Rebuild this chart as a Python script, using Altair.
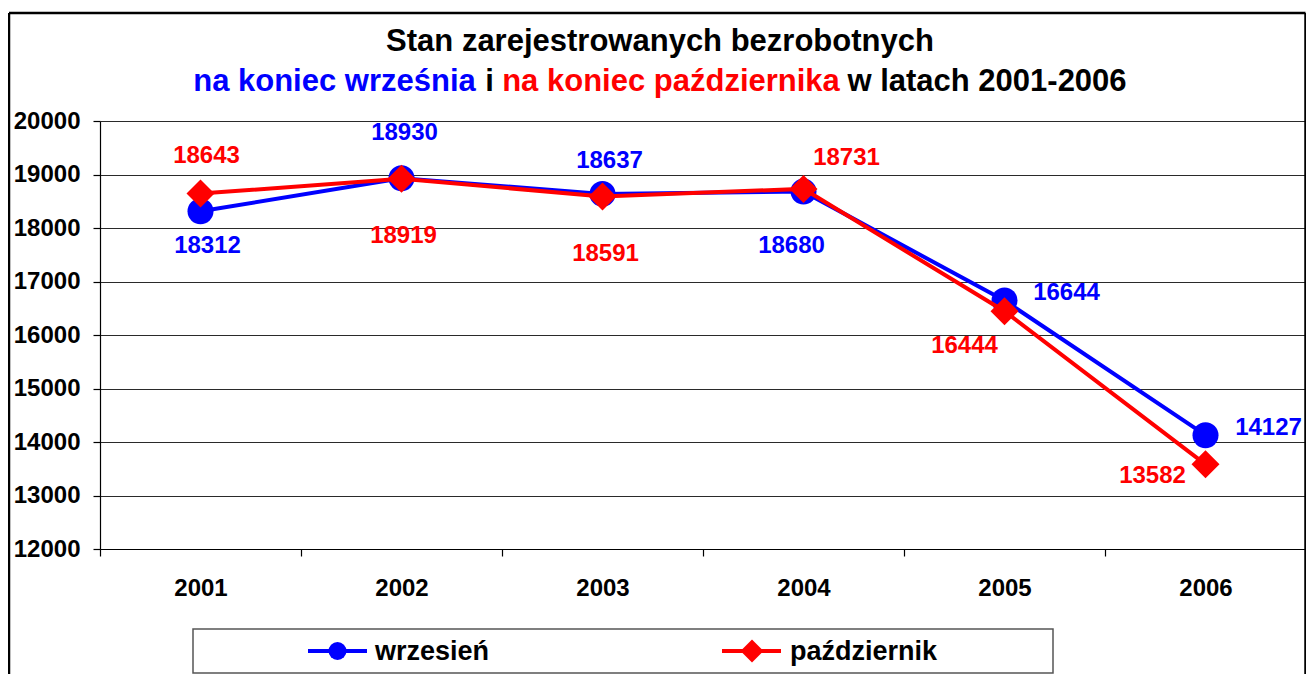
import altair as alt
import pandas as pd

# ---------------- data ----------------
years = ["2001", "2002", "2003", "2004", "2005", "2006"]
wrzesien = [18312, 18930, 18637, 18680, 16644, 14127]
pazdziernik = [18643, 18919, 18591, 18731, 16444, 13582]
series_names = ["wrzesień", "październik"]
y_ticks = [12000, 13000, 14000, 15000, 16000, 17000, 18000, 19000, 20000]

title_line1 = "Stan zarejestrowanych bezrobotnych"
title_line2_parts = ["na koniec września", "i", "na koniec października", "w latach 2001-2006"]

# ---------------- style ----------------
FONT = "Liberation Sans"
BLUE = "#0000FF"
RED = "#FF0000"
title_line2_colors = [BLUE, "#000000", RED, "#000000"]
title_line2_centers = [234.5, 389.5, 571, 887]   # pixel centres (layout)

# label offsets (pixels) for each point's value label
wrz_dx = [7, 3, 7, -12, 62, 63]
wrz_dy = [35, -45, -33, 54, -8, -7]
paz_dx = [6, 2, 3, 43, -40, -53]
paz_dy = [-38, 57, 58, -31, 35, 12]

PLOT_W, PLOT_H = 1206, 428
LBL = 24

df_w = pd.DataFrame({"year": years, "value": wrzesien})
df_p = pd.DataFrame({"year": years, "value": pazdziernik})
one = pd.DataFrame({"k": [0]})

x_enc = alt.X(
    "year:N",
    bandPosition=0.5,
    scale=alt.Scale(type="band", domain=years, paddingInner=0, paddingOuter=0),
    axis=alt.Axis(
        title=None, labelAngle=0, tickBand="extent", grid=False,
        domainColor="#000000", domainWidth=1.2, tickColor="#000000", tickWidth=1.2,
        tickSize=7, labelFont=FONT, labelFontSize=LBL, labelFontWeight="bold",
        labelColor="#000000", labelPadding=20,
    ),
)
y_enc = alt.Y(
    "value:Q",
    scale=alt.Scale(domain=[12000, 20000], nice=False, zero=False),
    axis=alt.Axis(
        title=None, values=y_ticks, format="d", grid=True, gridColor="#2a2a2a",
        gridWidth=1.2, domainColor="#000000", domainWidth=1.2, tickColor="#000000",
        tickWidth=1.2, tickSize=7, labelFont=FONT, labelFontSize=LBL,
        labelFontWeight="bold", labelColor="#000000", labelPadding=13,
    ),
)

layers = []

# outer chart border
RIGHT_X = PLOT_W - 0.5
border = alt.Chart(one)
layers.append(border.mark_rule(color="#000000", strokeWidth=2.5).encode(
    x=alt.value(-91), x2=alt.value(RIGHT_X), y=alt.value(-108)))
layers.append(border.mark_rule(color="#000000", strokeWidth=2.5).encode(
    x=alt.value(-91), y=alt.value(-108), y2=alt.value(570)))
layers.append(border.mark_rule(color="#000000", strokeWidth=2.5).encode(
    x=alt.value(RIGHT_X), y=alt.value(-108), y2=alt.value(570)))

# title
layers.append(alt.Chart(one).mark_text(
    text=title_line1, font=FONT, fontSize=31, fontWeight="bold", color="#000000",
    align="center", baseline="alphabetic").encode(x=alt.value(560), y=alt.value(-70)))
for part, col, cx in zip(title_line2_parts, title_line2_colors, title_line2_centers):
    layers.append(alt.Chart(one).mark_text(
        text=part, font=FONT, fontSize=31, fontWeight="bold", color=col,
        align="center", baseline="alphabetic").encode(x=alt.value(cx), y=alt.value(-30)))

# data lines and markers
layers.append(alt.Chart(df_w).mark_line(color=BLUE, strokeWidth=4).encode(x=x_enc, y=y_enc))
layers.append(alt.Chart(df_w).mark_point(shape="circle", filled=True, size=676, color=BLUE, opacity=1).encode(x=x_enc, y=y_enc))
layers.append(alt.Chart(df_p).mark_line(color=RED, strokeWidth=4).encode(x=x_enc, y=y_enc))
layers.append(alt.Chart(df_p).mark_point(shape="diamond", filled=True, size=784, color=RED, opacity=1).encode(x=x_enc, y=y_enc))

# value labels
for df, col, dxs, dys in [(df_w, BLUE, wrz_dx, wrz_dy), (df_p, RED, paz_dx, paz_dy)]:
    for i in range(len(df)):
        layers.append(alt.Chart(df.iloc[[i]]).mark_text(
            font=FONT, fontSize=LBL, fontWeight="bold", color=col,
            align="center", baseline="middle", dx=dxs[i], dy=dys[i]).encode(
            x=x_enc, y=y_enc, text=alt.Text("value:Q", format="d")))

# legend (manual box)
LEG_Y = 530
lg = alt.Chart(one)
layers.append(lg.mark_rect(filled=False, stroke="#555555", strokeWidth=1.5).encode(
    x=alt.value(93), x2=alt.value(953), y=alt.value(508), y2=alt.value(552)))
layers.append(lg.mark_rule(color=BLUE, strokeWidth=4).encode(
    x=alt.value(208), x2=alt.value(267), y=alt.value(LEG_Y)))
layers.append(lg.mark_point(shape="circle", filled=True, size=324, color=BLUE, opacity=1).encode(
    x=alt.value(237.5), y=alt.value(LEG_Y)))
layers.append(lg.mark_text(text=series_names[0], font=FONT, fontSize=27, fontWeight="bold",
    color="#000000", align="left", baseline="middle").encode(x=alt.value(275), y=alt.value(LEG_Y + 1)))
layers.append(lg.mark_rule(color=RED, strokeWidth=4).encode(
    x=alt.value(622), x2=alt.value(681), y=alt.value(LEG_Y)))
layers.append(lg.mark_point(shape="diamond", filled=True, size=529, color=RED, opacity=1).encode(
    x=alt.value(652), y=alt.value(LEG_Y)))
layers.append(lg.mark_text(text=series_names[1], font=FONT, fontSize=27, fontWeight="bold",
    color="#000000", align="left", baseline="middle").encode(x=alt.value(690), y=alt.value(LEG_Y + 1)))

chart = alt.layer(*layers).properties(
    width=PLOT_W, height=PLOT_H,
    autosize=alt.AutoSizeParams(type="none"),
    padding={"left": 92, "top": 113, "right": 0, "bottom": 125},
    background="white",
).configure_view(strokeWidth=0)

chart.save("out.html", embed_options={"renderer": "svg", "actions": False})
